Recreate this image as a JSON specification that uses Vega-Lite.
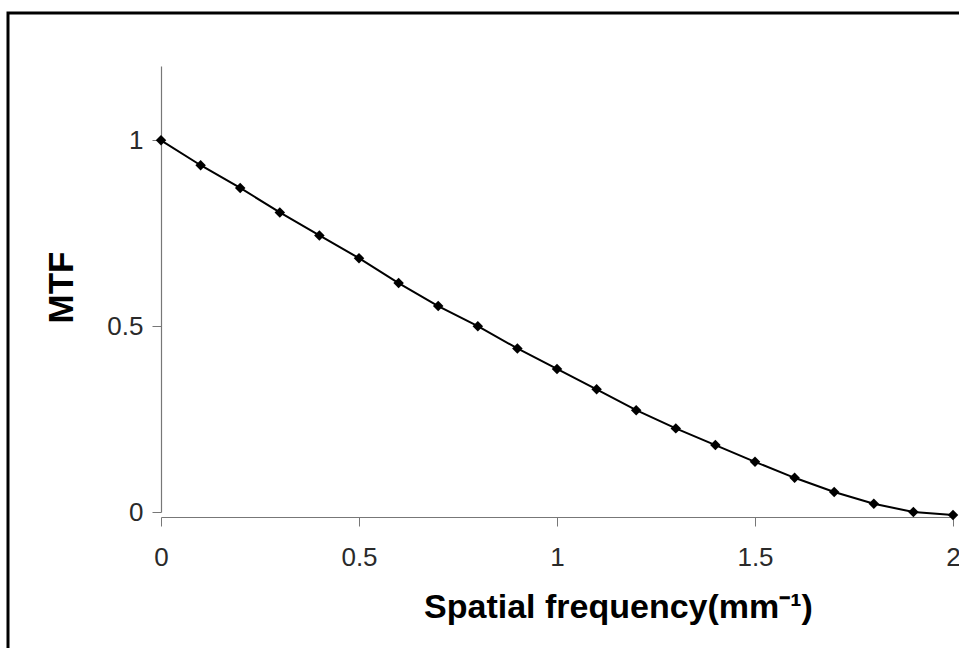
{
  "$schema": "https://vega.github.io/schema/vega-lite/v6.json",
  "autosize": {"type": "none"},
  "padding": {"left": 8, "top": 13, "right": 0, "bottom": 0},
  "width": 955,
  "height": 640,
  "background": "white",
  "config": {
    "view": {"stroke": "black", "strokeWidth": 3},
    "axis": {
      "labelFont": "Liberation Sans",
      "labelFontSize": 26,
      "labelColor": "#2a2a2a",
      "titleFont": "Liberation Sans",
      "titleFontWeight": "bold",
      "titleColor": "black",
      "domainColor": "#777777",
      "domainWidth": 1.2,
      "tickColor": "#777777",
      "tickSize": 9,
      "grid": false
    }
  },
  "data": {
    "values": [
      {"freq": 0.0, "mtf": 1.0},
      {"freq": 0.1, "mtf": 0.933},
      {"freq": 0.2, "mtf": 0.872},
      {"freq": 0.3, "mtf": 0.806},
      {"freq": 0.4, "mtf": 0.744},
      {"freq": 0.5, "mtf": 0.683},
      {"freq": 0.6, "mtf": 0.616},
      {"freq": 0.7, "mtf": 0.554},
      {"freq": 0.8, "mtf": 0.5},
      {"freq": 0.9, "mtf": 0.44},
      {"freq": 1.0, "mtf": 0.385},
      {"freq": 1.1, "mtf": 0.33},
      {"freq": 1.2, "mtf": 0.274},
      {"freq": 1.3, "mtf": 0.225},
      {"freq": 1.4, "mtf": 0.18},
      {"freq": 1.5, "mtf": 0.135},
      {"freq": 1.6, "mtf": 0.092},
      {"freq": 1.7, "mtf": 0.054},
      {"freq": 1.8, "mtf": 0.022},
      {"freq": 1.9, "mtf": 0.0},
      {"freq": 2.0, "mtf": -0.008}
    ]
  },
  "encoding": {
    "x": {
      "field": "freq",
      "type": "quantitative",
      "scale": {"domain": [0, 2], "range": [153, 945], "nice": false},
      "axis": {
        "title": "Spatial frequency(mm⁻¹)",
        "values": [0, 0.5, 1, 1.5, 2],
        "format": "~g",
        "offset": -136,
        "labelPadding": 18,
        "labelFlush": false,
        "labelOverlap": false,
        "titleFontSize": 34,
        "titleX": 610,
        "titleY": 100,
        "titleBaseline": "alphabetic",
        "titleAnchor": null,
        "titleAlign": "center"
      }
    },
    "y": {
      "field": "mtf",
      "type": "quantitative",
      "scale": {"domain": [0, 1.2], "range": [499, 53], "nice": false, "zero": false},
      "axis": {
        "title": "MTF",
        "values": [0, 0.5, 1],
        "format": "~g",
        "offset": -153,
        "labelPadding": 9,
        "labelFlush": false,
        "labelOverlap": false,
        "titleFontSize": 35,
        "titleAngle": -90,
        "titleX": -89,
        "titleY": 274,
        "titleBaseline": "alphabetic",
        "titleAlign": "center",
        "titleAnchor": null
      }
    }
  },
  "layer": [
    {"mark": {"type": "line", "color": "black", "strokeWidth": 2}},
    {"mark": {"type": "point", "shape": "diamond", "filled": true, "color": "black", "opacity": 1, "size": 110}}
  ]
}
